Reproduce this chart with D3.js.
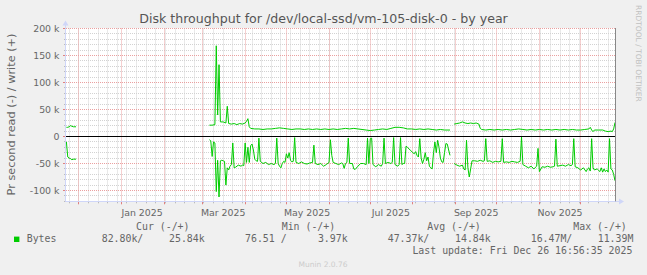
<!DOCTYPE html>
<html><head><meta charset="utf-8">
<script src="https://cdn.jsdelivr.net/npm/d3@7"></script>
<style>
html,body{margin:0;padding:0;background:#f0f0f0;}
svg{display:block;}
</style></head>
<body>
<svg id="chart" width="647" height="275"></svg>
<script>
// ---------- data (kB/s) ----------
const timeRange = ["2024-11-21T16:56:35Z", "2025-12-26T16:56:35Z"];
const titleText = "Disk throughput for /dev/local-ssd/vm-105-disk-0 - by year";
const yAxisLabel = "Pr second read (-) / write (+)";
const yTickValues = [200, 150, 100, 50, 0, -50, -100];
const yTickLabels = ["200 k", "150 k", "100 k", "50 k", "0", "-50 k", "-100 k"];
const xLabelMonths = ["2025-01-01", "2025-03-01", "2025-05-01", "2025-07-01", "2025-09-01", "2025-11-01"];
const xLabelTexts = ["Jan 2025", "Mar 2025", "May 2025", "Jul 2025", "Sep 2025", "Nov 2025"];

const writeDates = ["2024-11-22","2024-11-23","2024-11-24","2024-11-25","2024-11-26","2024-11-27","2024-11-29","2024-12-01",
"2025-03-06","2025-03-08","2025-03-10","2025-03-11","2025-03-12","2025-03-13","2025-03-14","2025-03-16","2025-03-18","2025-03-19","2025-03-20",
"2025-03-22","2025-03-24","2025-03-26","2025-03-28","2025-03-30","2025-04-01","2025-04-02","2025-04-03","2025-04-04","2025-04-05",
"2025-04-08","2025-04-11","2025-04-14","2025-04-17","2025-04-20","2025-04-23","2025-04-26","2025-04-29","2025-05-02","2025-05-05",
"2025-05-08","2025-05-11","2025-05-14","2025-05-17","2025-05-20","2025-05-23","2025-05-26","2025-05-29","2025-06-01","2025-06-04",
"2025-06-07","2025-06-10","2025-06-13","2025-06-16","2025-06-19","2025-06-22","2025-06-25","2025-06-28","2025-07-01","2025-07-04",
"2025-07-07","2025-07-10","2025-07-13","2025-07-16","2025-07-19","2025-07-22","2025-07-25","2025-07-28","2025-07-31","2025-08-03",
"2025-08-06","2025-08-09","2025-08-12","2025-08-15","2025-08-18","2025-08-21","2025-08-24","2025-08-28","2025-08-29",
"2025-08-31","2025-09-02","2025-09-04","2025-09-06","2025-09-08","2025-09-10","2025-09-12","2025-09-14","2025-09-16","2025-09-18",
"2025-09-19","2025-09-20","2025-09-23","2025-09-26","2025-09-29","2025-10-02","2025-10-05","2025-10-08","2025-10-11","2025-10-14",
"2025-10-17","2025-10-20","2025-10-23","2025-10-26","2025-10-29","2025-11-01","2025-11-04","2025-11-07","2025-11-10","2025-11-13",
"2025-11-16","2025-11-19","2025-11-22","2025-11-25","2025-11-28","2025-12-01","2025-12-04","2025-12-07","2025-12-08","2025-12-09",
"2025-12-10","2025-12-11","2025-12-14","2025-12-17","2025-12-19","2025-12-21","2025-12-23","2025-12-24","2025-12-25","2025-12-26"];
const writeK = [17,17,18,20,19,18,18,null,
21,21,22,168,40,133,27,27,25,56,24,
23,24,22,24,23,25,28,33,18,15,
14,14,13,14,14,15,16,15,14,13,
14,14,13,14,13,14,13,14,13,14,
13,14,15,14,15,14,13,12,11,12,
13,14,13,15,17,17,16,14,14,13,
14,13,14,13,12,13,12,12,null,
23,24,25,27,25,24,25,24,25,23,
15,13,12,13,12,13,12,13,12,13,
14,13,12,13,12,13,12,13,12,13,
12,13,12,13,12,12,13,14,17,12,
9,12,12,12,10,9,10,9,14,26];

const readDates = ["2024-11-22","2024-11-23","2024-11-24","2024-11-25","2024-11-26","2024-11-27","2024-11-29","2024-12-01",
"2025-03-06","2025-03-07","2025-03-08","2025-03-09","2025-03-10","2025-03-11","2025-03-12","2025-03-13","2025-03-14","2025-03-15",
"2025-03-16","2025-03-17","2025-03-18","2025-03-19","2025-03-20","2025-03-21","2025-03-22","2025-03-23","2025-03-24","2025-03-25",
"2025-03-27","2025-03-29","2025-03-30","2025-03-31","2025-04-01","2025-04-02","2025-04-03","2025-04-04","2025-04-05","2025-04-06",
"2025-04-07","2025-04-08","2025-04-09","2025-04-10","2025-04-11","2025-04-12","2025-04-14","2025-04-16","2025-04-18","2025-04-20",
"2025-04-22","2025-04-23","2025-04-24","2025-04-25","2025-04-26","2025-04-27","2025-04-28","2025-04-29","2025-04-30","2025-05-01",
"2025-05-02","2025-05-03","2025-05-04","2025-05-05","2025-05-06","2025-05-07","2025-05-08","2025-05-10","2025-05-12","2025-05-14",
"2025-05-16","2025-05-18","2025-05-20","2025-05-21","2025-05-22","2025-05-24","2025-05-26","2025-05-28","2025-05-30","2025-06-01",
"2025-06-02","2025-06-03","2025-06-04","2025-06-06","2025-06-08","2025-06-10","2025-06-11","2025-06-12","2025-06-13","2025-06-14",
"2025-06-15","2025-06-16","2025-06-18","2025-06-19","2025-06-20","2025-06-22","2025-06-24","2025-06-26","2025-06-28","2025-06-29",
"2025-06-30","2025-07-01","2025-07-02","2025-07-03","2025-07-05","2025-07-07","2025-07-09","2025-07-10","2025-07-11","2025-07-12",
"2025-07-14","2025-07-16","2025-07-17","2025-07-18","2025-07-19","2025-07-21","2025-07-22","2025-07-23","2025-07-24","2025-07-25",
"2025-07-26","2025-07-27","2025-07-28","2025-07-30","2025-08-01","2025-08-02","2025-08-03","2025-08-04","2025-08-05","2025-08-06",
"2025-08-07","2025-08-08","2025-08-09","2025-08-10","2025-08-11","2025-08-12","2025-08-13","2025-08-14","2025-08-15","2025-08-16",
"2025-08-17","2025-08-18","2025-08-19","2025-08-20","2025-08-21","2025-08-22","2025-08-23","2025-08-24","2025-08-25","2025-08-26",
"2025-08-27","2025-08-28","2025-08-29",
"2025-08-31","2025-09-02","2025-09-04","2025-09-06","2025-09-07","2025-09-08","2025-09-09","2025-09-10","2025-09-11","2025-09-12",
"2025-09-13","2025-09-15","2025-09-17","2025-09-19","2025-09-21","2025-09-22","2025-09-23","2025-09-24","2025-09-26","2025-09-28",
"2025-09-30","2025-10-02","2025-10-04","2025-10-05","2025-10-06","2025-10-08","2025-10-10","2025-10-12","2025-10-14","2025-10-16",
"2025-10-18","2025-10-19","2025-10-20","2025-10-22","2025-10-24","2025-10-26","2025-10-28","2025-10-30","2025-10-31","2025-11-01",
"2025-11-03","2025-11-05","2025-11-07","2025-11-09","2025-11-11","2025-11-12","2025-11-13","2025-11-14","2025-11-16","2025-11-18",
"2025-11-20","2025-11-22","2025-11-24","2025-11-25","2025-11-26","2025-11-27","2025-11-29","2025-12-01","2025-12-03","2025-12-05",
"2025-12-06","2025-12-07","2025-12-08","2025-12-09","2025-12-10","2025-12-11","2025-12-13","2025-12-15","2025-12-16","2025-12-17",
"2025-12-18","2025-12-19","2025-12-20","2025-12-21","2025-12-22","2025-12-23","2025-12-24","2025-12-25","2025-12-26"];
const readK = [10,38,40,41,43,42,42,null,
6,8,37,10,12,102,44,112,45,44,
45,46,90,58,62,55,52,12,58,57,
53,55,53,54,12,48,20,48,17,14,
25,42,45,46,3,46,50,48,52,50,
52,50,3,50,55,58,50,46,48,32,
40,30,44,47,46,2,48,50,47,50,
51,49,48,16,50,52,50,55,52,48,
6,35,48,50,52,49,50,59,50,48,
3,50,50,60,61,55,50,50,52,3,
50,4,3,52,56,52,55,50,3,50,
48,50,48,2,52,55,52,2,52,50,
50,18,20,25,30,32,28,35,38,4,
40,50,42,30,45,38,55,58,60,30,
10,30,7,20,40,47,48,30,13,14,
25,35,null,
50,53,55,53,60,62,7,58,75,60,
45,45,46,44,46,45,4,46,45,48,
46,47,46,4,48,47,48,46,47,48,
46,1,52,55,58,55,60,55,22,65,
56,57,55,57,56,55,5,55,54,53,
55,52,54,52,4,56,58,62,58,65,
60,58,64,4,58,62,60,65,58,66,
60,65,62,66,4,60,62,70,82];

const legendHeaders = ["Cur (-/+)", "Min (-/+)", "Avg (-/+)", "Max (-/+)"];
const legendName = "Bytes";
const legendValues = ["82.80k/", "25.84k", "76.51 /", "3.97k", "47.37k/", "14.84k", "16.47M/", "11.39M"];
const lastUpdate = "Last update: Fri Dec 26 16:56:35 2025";
const footer = "Munin 2.0.76";
const sideText = "RRDTOOL / TOBI OETIKER";

// ---------- layout ----------
const svg = d3.select("#chart");
const X0 = 66, X1 = 616, YT = 28.5, YB = 201.3;
const parse = d3.utcParse("%Y-%m-%d");
const x = d3.scaleUtc().domain(timeRange.map(s => new Date(s))).range([X0, X1]);
const y = d3.scaleLinear().domain([-120, 200]).range([YB, YT]);
const cx = v => Math.floor(x(v)) + 0.5;
const cy = v => Math.floor(y(v)) + 0.5;
const green = "#00cc00";
const fontSans = "'DejaVu Sans', sans-serif";
const fontMono = "'DejaVu Sans Mono', monospace";
const fontCol = "#666666";

svg.append("rect").attr("width", 647).attr("height", 275).attr("fill", "#f0f0f0");
svg.append("rect").attr("x", X0).attr("y", YT - 0.5).attr("width", X1 - X0).attr("height", YB - YT + 0.5).attr("fill", "#ffffff");

const grid = svg.append("g");
const minorCol = "#d2d2d2", majorCol = "#eaa0a0";
const [t0, t1] = x.domain();
// minor vertical (weekly)
d3.utcSunday.range(t0, t1).forEach(d => {
  const px = cx(d);
  grid.append("line").attr("x1", px).attr("x2", px).attr("y1", YT).attr("y2", YB)
    .attr("stroke", minorCol).attr("stroke-dasharray", "1,1");
  grid.append("line").attr("x1", px).attr("x2", px).attr("y1", YB).attr("y2", YB + 2).attr("stroke", "#bbbbbb");
});
// minor horizontal (10k)
y.ticks(32).forEach(v => {
  const py = cy(v);
  grid.append("line").attr("x1", X0).attr("x2", X1).attr("y1", py).attr("y2", py)
    .attr("stroke", minorCol).attr("stroke-dasharray", "1,1");
  grid.append("line").attr("x1", X0 - 2).attr("x2", X0).attr("y1", py).attr("y2", py).attr("stroke", "#bbbbbb");
});
// major vertical (month)
d3.utcMonth.range(t0, t1).forEach(d => {
  const px = cx(d);
  grid.append("line").attr("x1", px).attr("x2", px).attr("y1", YT).attr("y2", YB)
    .attr("stroke", majorCol).attr("stroke-dasharray", "1,1");
  grid.append("line").attr("x1", px).attr("x2", px).attr("y1", YB).attr("y2", YB + 3).attr("stroke", "#e08080");
});
// major horizontal (50k)
yTickValues.forEach(v => {
  const py = cy(v);
  grid.append("line").attr("x1", X0).attr("x2", X1).attr("y1", py).attr("y2", py)
    .attr("stroke", majorCol).attr("stroke-dasharray", "1,1");
  grid.append("line").attr("x1", X0 - 3).attr("x2", X0).attr("y1", py).attr("y2", py).attr("stroke", "#e08080");
});

// axes
const axisCol = "#cfd6f8";
svg.append("line").attr("x1", X0 - 0.5).attr("x2", X0 - 0.5).attr("y1", YT - 4).attr("y2", YB + 0.5).attr("stroke", axisCol);
svg.append("line").attr("x1", X0 - 0.5).attr("x2", X1 + 4).attr("y1", Math.floor(YB) + 0.5).attr("y2", Math.floor(YB) + 0.5).attr("stroke", axisCol);
svg.append("path").attr("d", `M${X0 - 3.5},${YT - 3} L${X0 - 0.5},${YT - 8} L${X0 + 2.5},${YT - 3} Z`).attr("fill", axisCol);
const ay = Math.floor(YB) + 0.5;
svg.append("path").attr("d", `M${X1 + 3},${ay - 3} L${X1 + 8},${ay} L${X1 + 3},${ay + 3} Z`).attr("fill", axisCol);

// series
const line = d3.line().defined(d => d.v !== null).x(d => x(d.t)).y(d => y(d.v));
const writeData = writeDates.map((s, i) => ({ t: parse(s), v: writeK[i] }));
const readData = readDates.map((s, i) => ({ t: parse(s), v: readK[i] === null ? null : -readK[i] }));
svg.append("path").datum(writeData).attr("d", line).attr("fill", "none").attr("stroke", green).attr("stroke-width", 1);
svg.append("path").datum(readData).attr("d", line).attr("fill", "none").attr("stroke", green).attr("stroke-width", 1);

// zero rule and right rule
svg.append("line").attr("x1", X0).attr("x2", X1).attr("y1", cy(0)).attr("y2", cy(0)).attr("stroke", "#000000");
svg.append("line").attr("x1", X1 - 0.5).attr("x2", X1 - 0.5).attr("y1", YT - 0.5).attr("y2", YB).attr("stroke", "#888888");

// y tick labels
yTickValues.forEach((v, i) => {
  svg.append("text").attr("x", 59.5).attr("y", y(v) + 3.4).attr("text-anchor", "end")
    .attr("font-family", fontSans).attr("font-size", 9.4).attr("fill", fontCol).text(yTickLabels[i]);
});
// x labels (centered at month + 15 days)
xLabelMonths.forEach((s, i) => {
  const d = d3.utcDay.offset(parse(s), 15);
  svg.append("text").attr("x", x(d)).attr("y", 215.8).attr("text-anchor", "middle")
    .attr("font-family", fontSans).attr("font-size", 9.4).attr("fill", fontCol).text(xLabelTexts[i]);
});

// title
svg.append("text").attr("x", 323.5).attr("y", 22.5).attr("text-anchor", "middle")
  .attr("font-family", fontSans).attr("font-size", 12.6).attr("fill", "#555555").text(titleText);
// y axis label
svg.append("text").attr("transform", "translate(15,114.5) rotate(-90)").attr("text-anchor", "middle")
  .attr("font-family", fontSans).attr("font-size", 11.3).attr("fill", fontCol).text(yAxisLabel);
// side text
svg.append("text").attr("transform", "translate(635.8,5) rotate(90)")
  .attr("font-family", fontSans).attr("font-size", 7.5).attr("fill", "#c0c0c0").text(sideText);

// legend
const hdrX = [136, 281.7, 427.3, 573.3];
legendHeaders.forEach((h, i) => {
  svg.append("text").attr("x", hdrX[i]).attr("y", 230.3).attr("font-family", fontMono)
    .attr("font-size", 9.9).attr("fill", fontCol).text(h);
});
svg.append("rect").attr("x", 14).attr("y", 236.6).attr("width", 5.4).attr("height", 5.4).attr("fill", green);
svg.append("text").attr("x", 26.7).attr("y", 242.3).attr("font-family", fontMono)
  .attr("font-size", 9.9).attr("fill", fontCol).text(legendName);
const valX = [101.7, 169, 245, 317.9, 387.7, 455, 530.7, 597.7];
legendValues.forEach((t, i) => {
  svg.append("text").attr("x", valX[i]).attr("y", 242.3).attr("font-family", fontMono)
    .attr("font-size", 9.9).attr("fill", fontCol).text(t);
});
svg.append("text").attr("x", 632.4).attr("y", 254.1).attr("text-anchor", "end").attr("font-family", fontMono)
  .attr("font-size", 9.9).attr("fill", fontCol).text(lastUpdate);
svg.append("text").attr("x", 323).attr("y", 267.3).attr("text-anchor", "middle").attr("font-family", fontSans)
  .attr("font-size", 7.5).attr("fill", "#cccccc").text(footer);
</script>
</body></html>
